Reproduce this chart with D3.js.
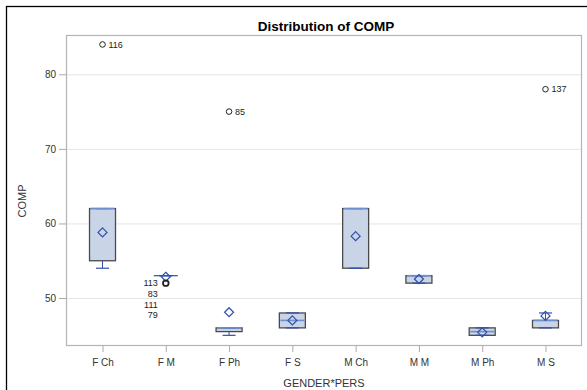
<!DOCTYPE html>
<html><head><meta charset="utf-8">
<script src="https://cdn.jsdelivr.net/npm/d3@7"></script>
<style>body{margin:0;background:#fff;}svg{display:block;font-family:Arial,"Liberation Sans",sans-serif;}</style>
</head><body>
<svg id="c" width="587" height="390"></svg>
<script>
const categories = ["F Ch","F M","F Ph","F S","M Ch","M M","M Ph","M S"];
const q1         = [55, 53, 45.5, 46, 54, 52, 45, 46];
const median     = [62, 53, 46, 47, 62, 53, 45.5, 47];
const q3         = [62, 53, 46, 48, 62, 53, 46, 47];
const whiskerLow = [54, 53, 45, 46, 54, 52, 45, 46];
const whiskerHigh= [62, 53, 46, 48, 62, 53, 46, 48];
const means      = [58.8, 52.85, 48.1, 47, 58.3, 52.55, 45.4, 47.6];
const outlierCats   = ["F Ch","F M","F Ph","M S"];
const outlierValues = [84, 52, 75, 78];
const outlierLabels = [["116"],["113","83","111","79"],["85"],["137"]];
const yTicks = [50,60,70,80];

const svg = d3.select("#c");
const L=66, R=582, T=35, B=346;
// outer frame
svg.append("rect").attr("x",6.5).attr("y",6.5).attr("width",600).attr("height",400)
  .attr("fill","none").attr("stroke","#000").attr("stroke-width",1.3);

const y = d3.scaleLinear().domain([43.57,85.27]).range([B,T]);
const x = d3.scalePoint().domain(categories).range([L,R]).padding(0.577);

// grid
svg.append("g").selectAll("line").data(yTicks).join("line")
  .attr("x1",L).attr("x2",R).attr("y1",d=>y(d)+0.5).attr("y2",d=>y(d)+0.5)
  .attr("stroke","#e4e4e4");

// axes
const ya = svg.append("g").attr("transform",`translate(${L},0)`)
  .call(d3.axisLeft(y).tickValues(yTicks).tickSize(7).tickPadding(3));
const xa = svg.append("g").attr("transform",`translate(0,${B})`)
  .call(d3.axisBottom(x).tickSize(6).tickPadding(7));
[ya,xa].forEach(a=>{
  a.select(".domain").remove();
  a.selectAll("line").attr("stroke","#aaa");
  a.selectAll("text").attr("fill","#333").style("font-size","10px").style("font-family","Arial,'Liberation Sans',sans-serif");
});
// plot frame
svg.append("rect").attr("x",L+0.5).attr("y",T+0.5).attr("width",R-L-1).attr("height",B-T-1)
  .attr("fill","none").attr("stroke","#b4b4b4").attr("stroke-width",1.2);

// title & labels
svg.append("text").attr("x",(L+R)/2+2).attr("y",31).attr("text-anchor","middle")
  .style("font-size","13.5px").style("font-weight","bold").attr("fill","#000").text("Distribution of COMP");
svg.append("text").attr("x",(L+R)/2).attr("y",387).attr("text-anchor","middle")
  .style("font-size","11px").attr("fill","#333").text("GENDER*PERS");
svg.append("text").attr("transform","translate(26,201) rotate(-90)").attr("text-anchor","middle")
  .style("font-size","11px").attr("fill","#333").text("COMP");

const bw = 26, cw = 13;
const blue = "#2f4fb0";
const g = svg.append("g");
categories.forEach((c,i)=>{
  const cx = x(c);
  if (whiskerLow[i] < q1[i]) g.append("line").attr("x1",cx).attr("x2",cx).attr("y1",y(q1[i])).attr("y2",y(whiskerLow[i])).attr("stroke",blue);
  if (whiskerHigh[i] > q3[i]) g.append("line").attr("x1",cx).attr("x2",cx).attr("y1",y(q3[i])).attr("y2",y(whiskerHigh[i])).attr("stroke",blue);
  const h = Math.max(y(q1[i])-y(q3[i]), 0);
  if (h > 0) g.append("rect").attr("x",cx-bw/2).attr("y",y(q3[i])).attr("width",bw).attr("height",h)
    .attr("fill","#c9d5e6").attr("stroke","#4a4a4a").attr("stroke-width",1.3);
  [whiskerLow[i], whiskerHigh[i]].forEach(v=>{
    g.append("line").attr("x1",cx-cw/2).attr("x2",cx+cw/2).attr("y1",y(v)).attr("y2",y(v)).attr("stroke",blue).attr("stroke-width",1.2);
  });
  g.append("line").attr("x1",cx-bw/2+1).attr("x2",cx+bw/2-1).attr("y1",y(median[i])).attr("y2",y(median[i]))
    .attr("stroke",h>0?"#6e8fd0":blue).attr("stroke-width",h>0?1.6:1.2);
  const my = y(means[i]), s = 4.5;
  g.append("path").attr("d",`M${cx},${my-s}L${cx+s},${my}L${cx},${my+s}L${cx-s},${my}Z`)
    .attr("fill","none").attr("stroke",blue).attr("stroke-width",1.2);
});

outlierCats.forEach((c,i)=>{
  const cx = x(c), cy = y(outlierValues[i]);
  const multi = outlierLabels[i].length > 1;
  g.append("circle").attr("cx",cx).attr("cy",cy).attr("r",2.8)
    .attr("fill","none").attr("stroke","#222").attr("stroke-width",multi?1.8:1);
  outlierLabels[i].forEach((lab,j)=>{
    g.append("text")
      .attr("x", multi ? cx-8 : cx+6)
      .attr("y", cy + j*10.7 + 3.2)
      .attr("text-anchor", multi ? "end" : "start")
      .style("font-size","9px").attr("fill","#222").text(lab);
  });
});
</script>
</body></html>
